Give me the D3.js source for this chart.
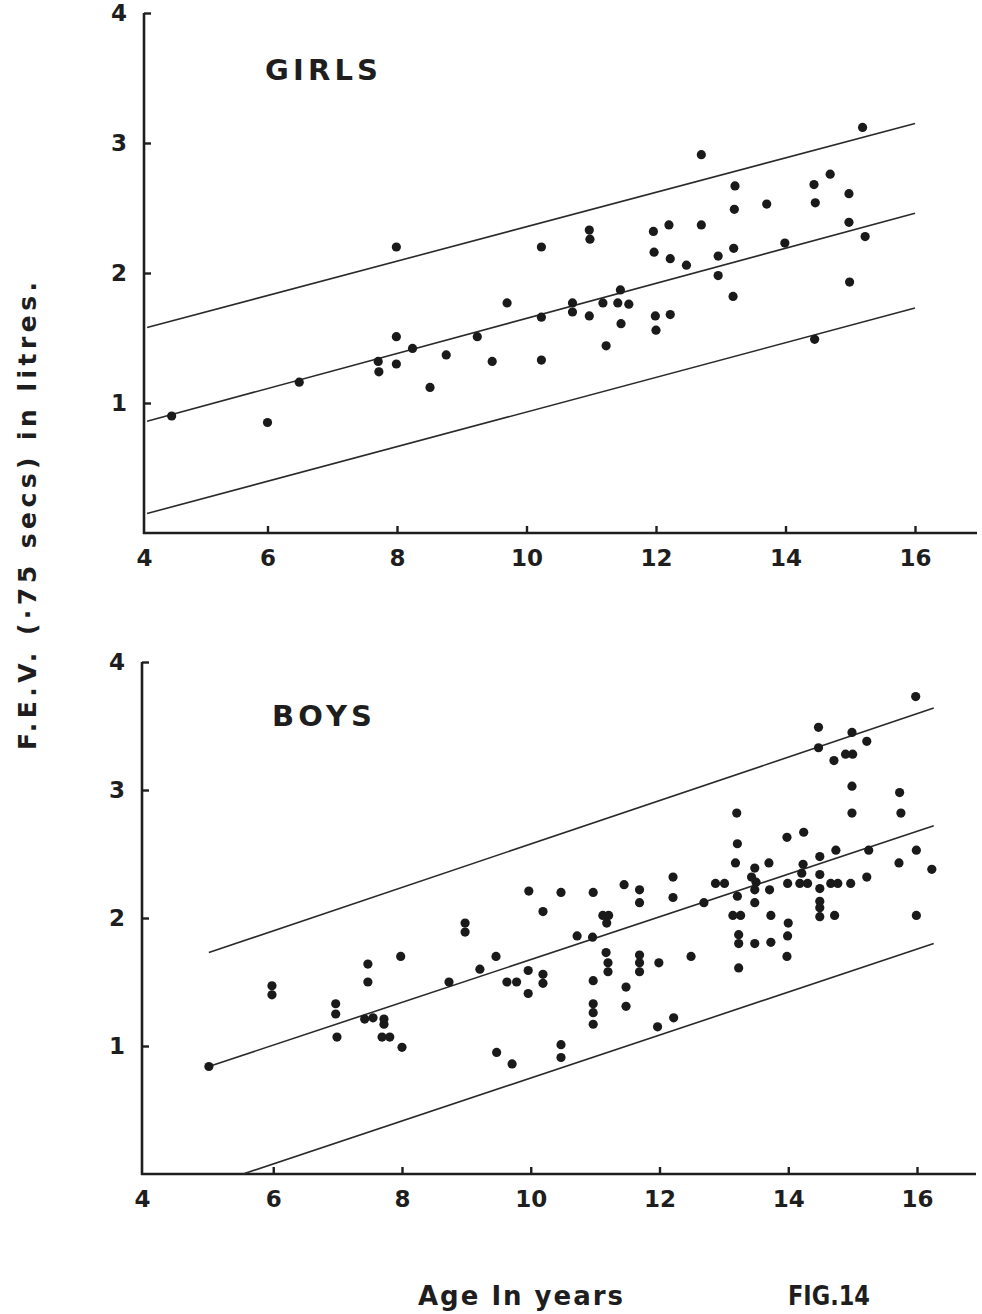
<!DOCTYPE html>
<html>
<head>
<meta charset="utf-8">
<script src="https://cdn.jsdelivr.net/npm/d3@7"></script>
<style>
  body { margin: 0; background: #fff; }
  svg text { fill: #1e1e1e; font-family: "DejaVu Sans", sans-serif; font-weight: bold; }
</style>
</head>
<body>
<svg id="chart" width="982" height="1314"></svg>
<script>
// FEV (.75 sec) against age, girls and boys, with fitted line and limits
var ageTicks = [4, 6, 8, 10, 12, 14, 16],
	fevTicks = [1, 2, 3, 4];

var girls = [
	[4.52,0.90],[6.0,0.85],[6.49,1.16],[7.71,1.32],[7.72,1.24],[7.99,1.51],[7.99,1.30],[7.99,2.20],
	[8.24,1.42],[8.51,1.12],[8.76,1.37],[9.24,1.51],[9.47,1.32],[9.70,1.77],[10.23,1.66],[10.23,1.33],
	[10.23,2.20],[10.71,1.77],[10.71,1.70],[10.97,1.67],[10.97,2.33],[10.98,2.26],[11.18,1.77],[11.23,1.44],
	[11.41,1.77],[11.45,1.87],[11.46,1.61],[11.58,1.76],[11.96,2.32],[11.97,2.16],[11.99,1.67],[12.0,1.56],
	[12.2,2.37],[12.22,2.11],[12.22,1.68],[12.47,2.06],[12.70,2.91],[12.70,2.37],[12.96,2.13],[12.96,1.98],
	[13.19,1.82],[13.2,2.19],[13.22,2.67],[13.21,2.49],[13.71,2.53],[13.99,2.23],[14.44,2.68],[14.46,2.54],
	[14.45,1.49],[14.69,2.76],[14.98,2.61],[14.98,2.39],[14.99,1.93],[15.23,2.28],[15.19,3.12]
];

var boys = [
	[5.0,0.84],[5.98,1.47],[5.98,1.40],[6.97,1.33],[6.97,1.25],[6.99,1.07],[7.47,1.64],[7.47,1.50],
	[7.42,1.21],[7.55,1.22],[7.72,1.21],[7.72,1.17],[7.69,1.07],[7.81,1.07],[7.98,1.70],[8.0,0.99],
	[8.73,1.50],[8.98,1.96],[8.98,1.89],[9.21,1.60],[9.46,1.70],[9.47,0.95],[9.63,1.50],[9.78,1.50],
	[9.71,0.86],[9.96,1.59],[9.96,1.41],[9.97,2.21],[10.19,2.05],[10.19,1.56],[10.19,1.49],[10.47,2.20],
	[10.47,1.01],[10.47,0.91],[10.72,1.86],[10.96,1.85],[10.97,2.20],[10.97,1.51],[10.97,1.33],[10.97,1.26],
	[10.97,1.17],[11.12,2.02],[11.21,2.02],[11.18,1.96],[11.17,1.73],[11.2,1.65],[11.2,1.58],[11.45,2.26],
	[11.48,1.46],[11.48,1.31],[11.69,2.22],[11.69,2.12],[11.69,1.71],[11.69,1.65],[11.69,1.58],[11.99,1.65],
	[11.97,1.15],[12.21,2.32],[12.21,2.16],[12.22,1.22],[12.49,1.70],[12.69,2.12],[12.87,2.27],[13.01,2.27],
	[13.2,2.82],[13.21,2.58],[13.18,2.43],[13.21,2.17],[13.14,2.02],[13.26,2.02],[13.23,1.87],[13.23,1.80],
	[13.23,1.61],[13.48,2.39],[13.43,2.32],[13.5,2.28],[13.48,2.22],[13.48,2.12],[13.48,1.80],[13.70,2.43],
	[13.71,2.22],[13.73,2.02],[13.73,1.81],[13.98,2.63],[13.99,2.27],[14.0,1.96],[13.99,1.86],[13.98,1.70],
	[14.24,2.67],[14.23,2.42],[14.21,2.35],[14.18,2.27],[14.30,2.27],[14.49,2.48],[14.49,2.34],[14.49,2.23],
	[14.49,2.13],[14.49,2.08],[14.49,2.01],[14.47,3.49],[14.47,3.33],[14.72,2.02],[14.74,2.53],[14.66,2.27],
	[14.77,2.27],[14.97,2.27],[14.71,3.23],[14.99,3.45],[14.89,3.28],[15.0,3.28],[15.22,3.38],[14.99,3.03],
	[14.99,2.82],[15.25,2.53],[15.22,2.32],[15.73,2.98],[15.75,2.82],[15.72,2.43],[15.99,2.53],[15.98,3.73],
	[16.23,2.38],[15.99,2.02]
];

// regression line and upper / lower limits, as end points
var girlsLines = [
	[[4.14,1.58],[16,3.15]],
	[[4.14,0.86],[16,2.46]],
	[[4.14,0.15],[16,1.73]]
];
var boysLines = [
	[[5,1.73],[16.26,3.64]],
	[[5,0.84],[16.26,2.72]],
	[[5.53,0],[16.26,1.80]]
];

var svg = d3.select("#chart");

function panel(cfg) {
	var x = d3.scaleLinear().domain([4, 16]).range([cfg.x4, cfg.x16]),
		y = d3.scaleLinear().domain([0, 4]).range([cfg.y0, cfg.y4]),
		g = svg.append("g");

	// axes
	g.append("line")
		.attr("x1", cfg.axisX).attr("x2", cfg.axisX)
		.attr("y1", y(4)).attr("y2", y(0) + 1)
		.attr("stroke", "#1e1e1e").attr("stroke-width", 2.6);
	g.append("line")
		.attr("x1", cfg.axisX - 1).attr("x2", cfg.xEnd)
		.attr("y1", y(0)).attr("y2", y(0))
		.attr("stroke", "#1e1e1e").attr("stroke-width", 2.6);

	var xAxis = g.append("g")
		.attr("transform", "translate(0," + y(0) + ")")
		.call(d3.axisBottom(x).tickValues(ageTicks).tickFormat(d3.format("d"))
			.tickSizeInner(-7).tickSizeOuter(0).tickPadding(17));
	xAxis.select(".domain").remove();
	xAxis.selectAll(".tick line").attr("stroke", "#1e1e1e").attr("stroke-width", 2.4)
		.filter(function(d) { return d === 4; }).remove();
	xAxis.selectAll(".tick text").attr("font-size", 23).attr("fill", "#1e1e1e")
		.filter(function(d) { return d === 4; }).attr("x", cfg.axisX - x(4));
	xAxis.attr("font-family", null);

	var yAxis = g.append("g")
		.attr("transform", "translate(" + cfg.axisX + ",0)")
		.call(d3.axisLeft(y).tickValues(fevTicks).tickFormat(d3.format("d"))
			.tickSizeInner(-7).tickSizeOuter(0).tickPadding(17));
	yAxis.select(".domain").remove();
	yAxis.selectAll(".tick line").attr("stroke", "#1e1e1e").attr("stroke-width", 2.4);
	yAxis.selectAll(".tick text").attr("font-size", 23).attr("fill", "#1e1e1e");
	yAxis.attr("font-family", null);

	// fitted line and limits
	var line = d3.line().x(function(d) { return x(d[0]); }).y(function(d) { return y(d[1]); });
	g.selectAll(".fit").data(cfg.lines).enter().append("path")
		.attr("class", "fit")
		.attr("d", line)
		.attr("fill", "none")
		.attr("stroke", "#2a2a2a")
		.attr("stroke-width", 1.6);

	// observations
	g.selectAll(".obs").data(cfg.points).enter().append("circle")
		.attr("class", "obs")
		.attr("cx", function(d) { return x(d[0]); })
		.attr("cy", function(d) { return y(d[1]); })
		.attr("r", 4.6)
		.attr("fill", "#1a1a1a");

	g.append("text")
		.attr("x", cfg.titleX).attr("y", cfg.titleY)
		.attr("font-size", 29)
		.attr("textLength", cfg.titleLen)
		.attr("lengthAdjust", "spacing")
		.style("font-weight", 600)
		.text(cfg.title);
}

panel({
	title: "GIRLS", titleX: 265, titleY: 80, titleLen: 113,
	x4: 138, x16: 915, y0: 533, y4: 13, axisX: 144, xEnd: 977,
	points: girls, lines: girlsLines
});

panel({
	title: "BOYS", titleX: 272, titleY: 726, titleLen: 100,
	x4: 144.5, x16: 917, y0: 1174, y4: 662, axisX: 142, xEnd: 976,
	points: boys, lines: boysLines
});

// shared axis titles
svg.append("text")
	.attr("transform", "translate(36,516) rotate(-90)")
	.attr("text-anchor", "middle")
	.attr("font-size", 25)
	.attr("textLength", 468)
	.attr("lengthAdjust", "spacing")
	.text("F.E.V. (\u00b775 secs) in litres.");

svg.append("text")
	.attr("x", 418).attr("y", 1305)
	.attr("font-size", 26)
	.attr("textLength", 205)
	.attr("lengthAdjust", "spacing")
	.text("Age In years");

svg.append("text")
	.attr("x", 788).attr("y", 1305)
	.attr("font-size", 26)
	.attr("textLength", 82)
	.attr("lengthAdjust", "spacingAndGlyphs")
	.text("FIG.14");
</script>
</body>
</html>
